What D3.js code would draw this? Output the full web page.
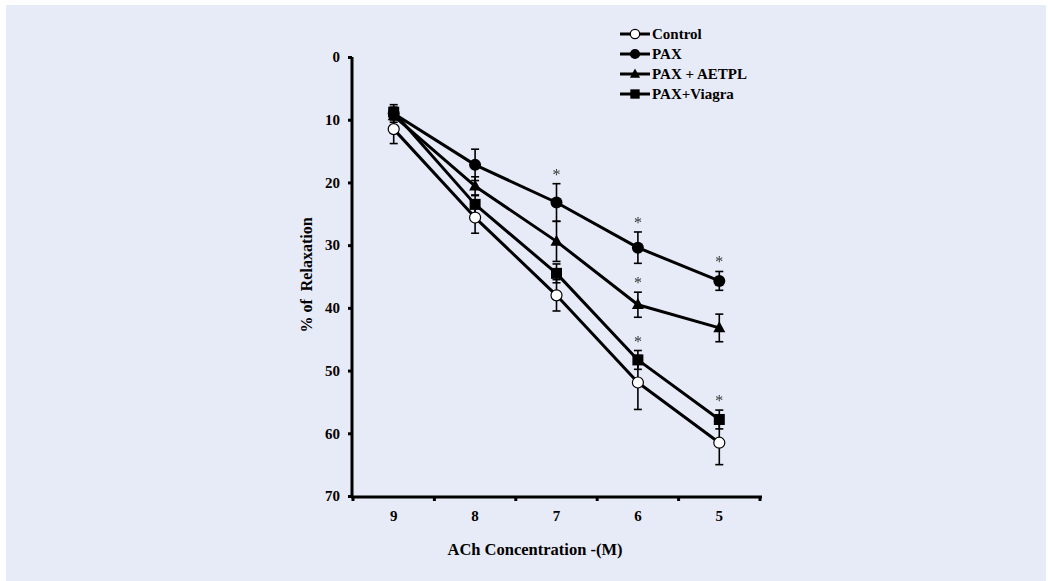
<!DOCTYPE html>
<html>
<head>
<meta charset="utf-8">
<script src="https://cdn.jsdelivr.net/npm/d3@7"></script>
<style>
  html, body { margin: 0; padding: 0; background: #ffffff; }
  svg { display: block; }
  text { font-family: "Liberation Serif", "Times New Roman", serif; }
</style>
</head>
<body>
<svg id="chart" width="1048" height="581"></svg>
<script>
// ACh concentration (-log M) categories
const concentrations = ["9", "8", "7", "6", "5"];
const yTicks = [0, 10, 20, 30, 40, 50, 60, 70];

// Mean % relaxation and SEM for each group
const controlMean = [11.5, 25.6, 38.0, 51.9, 61.5];
const controlErr  = [2.3, 2.5, 2.5, 4.3, 3.5];
const paxMean     = [9.0, 17.2, 23.2, 30.4, 35.7];
const paxErr      = [1.0, 2.5, 3.0, 2.5, 1.5];
const aetplMean   = [9.4, 20.6, 29.4, 39.5, 43.2];
const aetplErr    = [1.0, 1.5, 3.2, 2.0, 2.2];
const viagraMean  = [8.8, 23.5, 34.5, 48.3, 57.8];
const viagraErr   = [1.2, 1.5, 1.5, 1.5, 1.5];

const seriesNames = ["Control", "PAX", "PAX + AETPL", "PAX+Viagra"];
// significance markers: [series index, concentration index]
const starMarks = [[1, 2], [1, 3], [1, 4], [2, 3], [3, 3], [3, 4]];

const series = [
  { name: seriesNames[0], mean: controlMean, err: controlErr, shape: "openCircle" },
  { name: seriesNames[1], mean: paxMean, err: paxErr, shape: "circle" },
  { name: seriesNames[2], mean: aetplMean, err: aetplErr, shape: "triangle" },
  { name: seriesNames[3], mean: viagraMean, err: viagraErr, shape: "square" }
];

const svg = d3.select("#chart");
// pass-through filter so the small asterisks are rasterised in greyscale
const flt = svg.append("defs").append("filter").attr("id", "flat")
  .attr("x", "-50%").attr("y", "-50%").attr("width", "200%").attr("height", "200%");
flt.append("feOffset").attr("dx", 0).attr("dy", 0);

svg.append("rect").attr("x", 6).attr("y", 5).attr("width", 1040).attr("height", 576)
  .attr("fill", "#e7ebf7");

const x = d3.scaleBand().domain(concentrations).range([353, 760]).padding(0);
const y = d3.scaleLinear().domain([0, 70]).range([57, 496]);
const cx = d => x(d) + x.bandwidth() / 2;

// Axes
const yAxis = svg.append("g").attr("transform", "translate(352,0)")
  .call(d3.axisLeft(y).tickValues(yTicks).tickSize(4).tickPadding(8));
yAxis.select(".domain").attr("stroke", "#000").attr("stroke-width", 3)
  .attr("d", `M0,${y(0)}V${y(70) + 1}`);
yAxis.selectAll(".tick line").attr("stroke", "#000").attr("stroke-width", 3);
yAxis.selectAll(".tick text").attr("font-size", 15).attr("font-weight", "bold")
  .attr("fill", "#000");

const xAxis = svg.append("g").attr("transform", "translate(0,497)")
  .call(d3.axisBottom(x).tickSize(0).tickPadding(13));
xAxis.select(".domain").attr("stroke", "#000").attr("stroke-width", 3)
  .attr("d", "M351,0H762");
xAxis.selectAll(".tick text").attr("font-size", 15).attr("font-weight", "bold")
  .attr("fill", "#000");
// tick marks sit at the band boundaries
const edges = concentrations.map(c => x(c)).concat([x.range()[1]]);
xAxis.selectAll(".edge").data(edges).join("line")
  .attr("x1", d => d).attr("x2", d => d).attr("y1", 0).attr("y2", 4)
  .attr("stroke", "#000").attr("stroke-width", 3);

// Axis titles
svg.append("text").attr("x", 535).attr("y", 555).attr("text-anchor", "middle")
  .attr("font-size", 16.5).attr("font-weight", "bold").text("ACh Concentration -(M)");
svg.append("text").attr("transform", "translate(312,275) rotate(-90)")
  .attr("text-anchor", "middle").attr("font-size", 16).attr("font-weight", "bold")
  .attr("xml:space", "preserve").style("white-space", "pre").text("% of  Relaxation");

// Lines
const line = d3.line().x((d, i) => cx(concentrations[i])).y(d => y(d));
const plot = svg.append("g");
series.forEach(s => {
  plot.append("path").attr("d", line(s.mean)).attr("fill", "none")
    .attr("stroke", "#000").attr("stroke-width", 3).attr("stroke-linejoin", "round");
});

// Error bars
series.forEach(s => {
  s.mean.forEach((m, i) => {
    const px = cx(concentrations[i]);
    const g = plot.append("g").attr("stroke", "#000").attr("stroke-width", 1.6);
    g.append("line").attr("x1", px).attr("x2", px).attr("y1", y(m - s.err[i])).attr("y2", y(m + s.err[i]));
    g.append("line").attr("x1", px - 4).attr("x2", px + 4).attr("y1", y(m - s.err[i])).attr("y2", y(m - s.err[i]));
    g.append("line").attr("x1", px - 4).attr("x2", px + 4).attr("y1", y(m + s.err[i])).attr("y2", y(m + s.err[i]));
  });
});

// Markers
function drawMarker(g, shape, px, py, scale) {
  const k = scale || 1;
  if (shape === "openCircle") {
    g.append("circle").attr("cx", px).attr("cy", py).attr("r", 5.5 * k)
      .attr("fill", "#fff").attr("stroke", "#000").attr("stroke-width", 1.2);
  } else if (shape === "circle") {
    g.append("circle").attr("cx", px).attr("cy", py).attr("r", 6 * k).attr("fill", "#000");
  } else if (shape === "triangle") {
    const h = 11 * k, w = 12 * k;
    g.append("path").attr("d", `M${px},${py - h * 0.6}L${px + w / 2},${py + h * 0.4}L${px - w / 2},${py + h * 0.4}Z`)
      .attr("fill", "#000");
  } else {
    const s = 11 * k;
    g.append("rect").attr("x", px - s / 2).attr("y", py - s / 2).attr("width", s).attr("height", s)
      .attr("fill", "#000");
  }
}
[3, 2, 1, 0].forEach(si => {
  const s = series[si];
  s.mean.forEach((m, i) => drawMarker(plot, s.shape, cx(concentrations[i]), y(m)));
});

// Significance asterisks
const stars = plot.append("g").attr("filter", "url(#flat)");
starMarks.forEach(([si, ci]) => {
  const s = series[si];
  stars.append("text").attr("x", cx(concentrations[ci])).attr("y", y(s.mean[ci] - s.err[ci]) - 4)
    .attr("text-anchor", "middle").attr("font-size", 16).attr("fill", "#333")
    .text("*");
});

// Legend
const legend = svg.append("g");
series.forEach((s, i) => {
  const ly = 34 + i * 20;
  legend.append("line").attr("x1", 620).attr("x2", 650).attr("y1", ly).attr("y2", ly)
    .attr("stroke", "#000").attr("stroke-width", 3);
  drawMarker(legend, s.shape, 635, ly, 0.85);
  legend.append("text").attr("x", 652).attr("y", ly + 5).attr("font-size", 15)
    .attr("font-weight", "bold").text(s.name);
});
</script>
</body>
</html>
